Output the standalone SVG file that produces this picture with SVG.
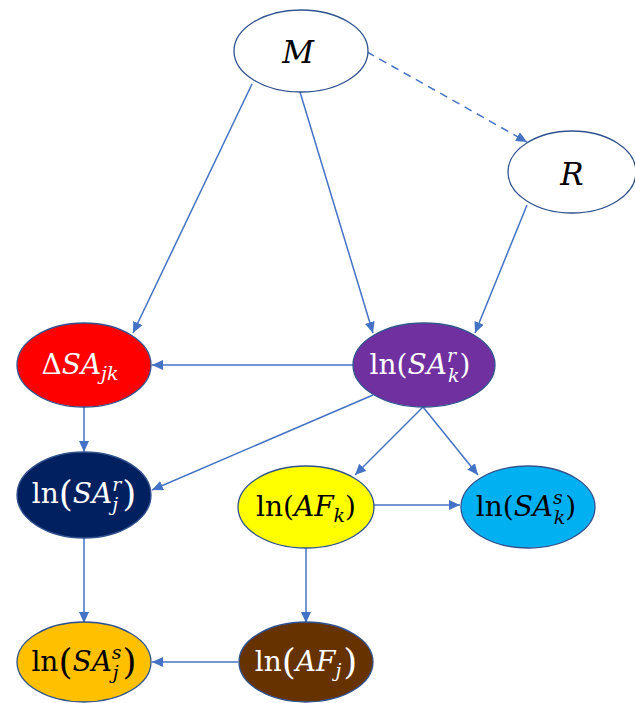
<svg xmlns="http://www.w3.org/2000/svg" width="635" height="703" viewBox="0 0 635 703">
<style>
.n{stroke:#2F528F;stroke-width:1.3}
.e{stroke:#4472C4;stroke-width:1.5;fill:none}
.d{stroke-dasharray:8 6}
.t{font-family:"DejaVu Serif","Liberation Serif",serif;font-size:28px;fill:#000}
.i{font-style:italic}
.s{font-size:19px}
.b{font-size:36px}
.w{fill:#fff}
</style>
<defs>
<marker id="a" markerWidth="12" markerHeight="10" refX="11" refY="5" orient="auto" markerUnits="userSpaceOnUse">
<path d="M0,0 L11,5 L0,10 z" fill="#4472C4"/>
</marker>
</defs>
<rect width="635" height="703" fill="#fff"/>
<g id="connectors">
<line class="e" x1="252" y1="84" x2="133" y2="333" marker-end="url(#a)"/>
<line class="e" x1="300" y1="92" x2="373" y2="333" marker-end="url(#a)"/>
<line class="e d" x1="367" y1="52" x2="527" y2="142" marker-end="url(#a)"/>
<line class="e" x1="527" y1="205" x2="475" y2="333" marker-end="url(#a)"/>
<line class="e" x1="353" y1="365" x2="152" y2="365" marker-end="url(#a)"/>
<line class="e" x1="373" y1="395" x2="152" y2="490" marker-end="url(#a)"/>
<line class="e" x1="84" y1="407" x2="84" y2="452" marker-end="url(#a)"/>
<line class="e" x1="423" y1="407" x2="355" y2="475" marker-end="url(#a)"/>
<line class="e" x1="423" y1="407" x2="478" y2="475" marker-end="url(#a)"/>
<line class="e" x1="374" y1="505" x2="460" y2="505" marker-end="url(#a)"/>
<line class="e" x1="306" y1="548" x2="306" y2="623" marker-end="url(#a)"/>
<line class="e" x1="84" y1="538" x2="84" y2="623" marker-end="url(#a)"/>
<line class="e" x1="238" y1="662" x2="152" y2="662" marker-end="url(#a)"/>
</g>
<g id="M">
<ellipse class="n" cx="301" cy="51" rx="67" ry="41" fill="#fff"/>
<text class="t i" x="298" y="63" text-anchor="middle" style="font-size:31px">M</text>
</g>
<g id="R">
<ellipse class="n" cx="572" cy="172" rx="64" ry="41" fill="#fff"/>
<text class="t i" x="572" y="185" text-anchor="middle" style="font-size:31px">R</text>
</g>
<g id="dSAjk">
<ellipse class="n" cx="84" cy="365" rx="67" ry="42" fill="#FF0000"/>
<text class="t w" x="80" y="374" text-anchor="middle">Δ<tspan class="i">SA</tspan><tspan class="i s" dy="6">jk</tspan></text>
</g>
<g id="lnSAkr">
<ellipse class="n" cx="424" cy="365" rx="71" ry="42" fill="#7030A0"/>
<text class="t w" x="420" y="374" text-anchor="middle">ln(<tspan class="i">SA</tspan><tspan class="i s" dy="-12">r</tspan><tspan class="i s" dx="-8" dy="20">k</tspan><tspan dy="-8">)</tspan></text>
</g>
<g id="lnSAjr">
<ellipse class="n" cx="84" cy="495" rx="67" ry="43" fill="#002060"/>
<text class="t w" x="84" y="503" text-anchor="middle">ln<tspan class="b" dy="3">(</tspan><tspan class="i" dy="-3">SA</tspan><tspan class="i s" dy="-12">r</tspan><tspan class="i s" dx="-9" dy="20">j</tspan><tspan class="b" dx="4" dy="-5">)</tspan></text>
</g>
<g id="lnAFk">
<ellipse class="n" cx="306" cy="507" rx="68" ry="41" fill="#FFFF00"/>
<text class="t" x="306" y="516" text-anchor="middle">ln(<tspan class="i">AF</tspan><tspan class="i s" dy="6">k</tspan><tspan dy="-6">)</tspan></text>
</g>
<g id="lnSAks">
<ellipse class="n" cx="528" cy="507" rx="67" ry="41" fill="#00B0F0"/>
<text class="t" x="526" y="516" text-anchor="middle">ln(<tspan class="i">SA</tspan><tspan class="i s" dy="-12">s</tspan><tspan class="i s" dx="-9" dy="20">k</tspan><tspan dy="-8">)</tspan></text>
</g>
<g id="lnSAjs">
<ellipse class="n" cx="84" cy="662" rx="67" ry="40" fill="#FFC000"/>
<text class="t" x="84" y="671" text-anchor="middle">ln<tspan class="b" dy="3">(</tspan><tspan class="i" dy="-3">SA</tspan><tspan class="i s" dy="-12">s</tspan><tspan class="i s" dx="-9" dy="20">j</tspan><tspan class="b" dx="4" dy="-5">)</tspan></text>
</g>
<g id="lnAFj">
<ellipse class="n" cx="306" cy="662" rx="67" ry="40" fill="#663300"/>
<text class="t w" x="306" y="671" text-anchor="middle">ln<tspan class="b" dy="3">(</tspan><tspan class="i" dy="-3">AF</tspan><tspan class="i s" dy="6">j</tspan><tspan class="b" dx="2" dy="-3">)</tspan></text>
</g>
</svg>
